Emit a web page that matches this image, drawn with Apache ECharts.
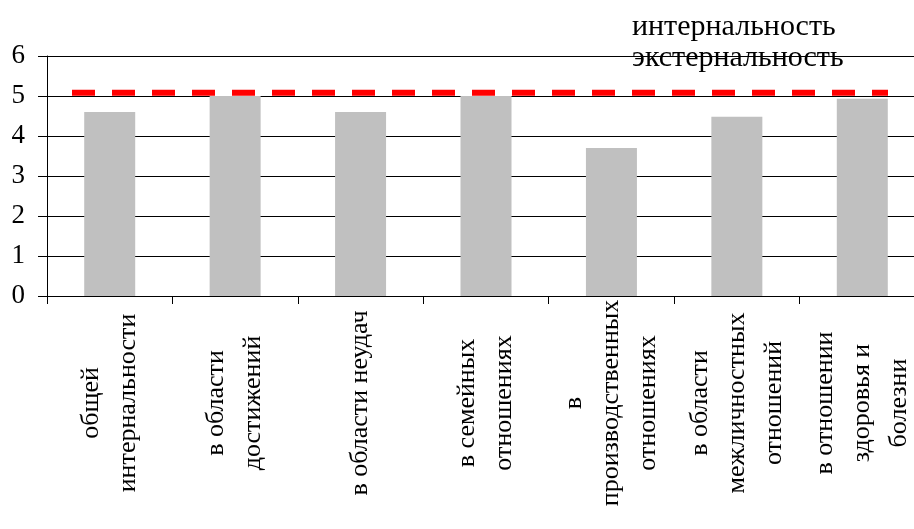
<!DOCTYPE html>
<html>
<head>
<meta charset="utf-8">
<script src="https://cdn.jsdelivr.net/npm/echarts@6/dist/echarts.min.js"></script>
<style>
  html, body { margin: 0; padding: 0; background: #fff; }
  #chart { width: 914px; height: 529px; }
</style>
</head>
<body>
<div id="chart"></div>
<script>
// категории (шкалы локуса контроля)
const categories = [
  'общей\nинтернальности',
  'в области\nдостижений',
  'в области неудач',
  'в семейных\nотношениях',
  'в\nпроизводственных\nотношениях',
  'в области\nмежличностных\nотношений',
  'в отношении\nздоровья и\nболезни'
]
const internalValues = [4.6, 5.0, 4.6, 5.0, 3.7, 4.48, 4.93]
const externalValues = [5.08, 5.08, 5.08, 5.08, 5.08, 5.08, 5.08]
const yTicks = [0, 1, 2, 3, 4, 5, 6]

const font = "'Liberation Serif', 'Times New Roman', serif"

const chart = echarts.init(document.getElementById('chart'))

const option = {
  backgroundColor: '#fff',
  animation: false,
  legend: {
    orient: 'vertical',
    left: 622,
    top: 7,
    icon: 'none',
    itemWidth: 0,
    itemHeight: 10,
    itemGap: 1,
    selectedMode: false,
    textStyle: { fontFamily: font, fontSize: 30, color: '#000' },
    data: ['интернальность', 'экстернальность']
  },
  grid: [
    { left: 47, width: 878, top: 56, bottom: 233, outerBoundsMode: 'none' },
    { left: 72, width: 816, top: 56, bottom: 233, outerBoundsMode: 'none' }
  ],
  xAxis: [
    {
      type: 'category',
      gridIndex: 0,
      data: categories,
      axisLine: { lineStyle: { color: '#000', width: 1 } },
      axisTick: { show: true, interval: 0, length: 8, lineStyle: { color: '#000' } },
      axisLabel: {
        interval: 0,
        rotate: 90,
        align: 'center',
        margin: 107,
        lineHeight: 37,
        fontFamily: font,
        fontSize: 26,
        color: '#000'
      }
    },
    {
      type: 'category',
      gridIndex: 1,
      data: categories,
      boundaryGap: false,
      show: false
    }
  ],
  yAxis: [
    {
      type: 'value',
      gridIndex: 0,
      min: yTicks[0],
      max: yTicks[yTicks.length - 1],
      interval: 1,
      axisLine: { show: true, lineStyle: { color: '#000' } },
      axisTick: { show: true, length: 9, lineStyle: { color: '#000' } },
      axisLabel: { margin: 22, fontFamily: font, fontSize: 27, color: '#000' },
      splitLine: { lineStyle: { color: '#000', width: 1 } }
    },
    {
      type: 'value',
      gridIndex: 1,
      min: yTicks[0],
      max: yTicks[yTicks.length - 1],
      show: false,
      splitLine: { show: false }
    }
  ],
  series: [
    {
      name: 'интернальность',
      type: 'bar',
      xAxisIndex: 0,
      yAxisIndex: 0,
      barWidth: 51,
      itemStyle: { color: '#C0C0C0' },
      data: internalValues
    },
    {
      name: 'экстернальность',
      type: 'line',
      xAxisIndex: 1,
      yAxisIndex: 1,
      symbol: 'none',
      lineStyle: { color: '#FF0000', width: 6, type: [23, 17], cap: 'butt' },
      itemStyle: { color: '#FF0000' },
      data: externalValues
    }
  ]
}

chart.setOption(option)
</script>
</body>
</html>
